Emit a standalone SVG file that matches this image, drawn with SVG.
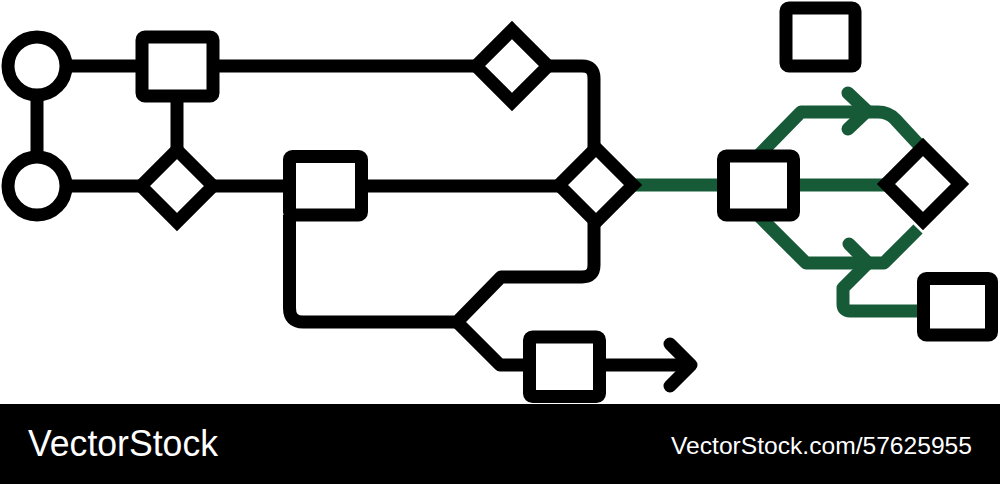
<svg xmlns="http://www.w3.org/2000/svg" width="1000" height="484" viewBox="0 0 1000 484">
<style>
.k{fill:none;stroke:#000;stroke-width:13;stroke-linejoin:round}
.g{fill:none;stroke:#175a38;stroke-width:13;stroke-linejoin:round}
.cap{stroke-linecap:round}
.n{fill:#fff;stroke:#000;stroke-width:13;stroke-linejoin:miter}
.r{fill:#fff;stroke:#000;stroke-width:13;stroke-linejoin:round}
.t{fill:#fff;font-family:"Liberation Sans",Arial,sans-serif}
</style>
<rect width="1000" height="484" fill="#fff"/>
<g id="connectors">
<path class="k" d="M37,66 V186"/>
<path class="k" d="M37,66 H142"/>
<path class="k" d="M213,66 H476"/>
<path class="k" d="M548,66 H582 Q594,66 594,78 V150"/>
<path class="k" d="M177,96 V152"/>
<path class="k" d="M37,186 H560"/>
<path class="k" d="M289.5,215 V308 Q289.5,322 303,322 H457 L501,277 H582 Q594,277 594,265 V220"/>
<path class="k" d="M457,322 L500,365 H529.5"/>
<path class="k" d="M599,365 H688"/>
<path class="k cap" d="M670,344 L691,365 L670,386"/>
<path class="g" d="M632,185 H723"/>
<path class="g" d="M793,185 H888"/>
<path class="g" d="M758,156 L801,112 H878 Q888,112 895,119 L920,146"/>
<path class="g cap" d="M848,93 L867,111 L848,129"/>
<path class="g" d="M758,215 L806,263 H884 L918,229"/>
<path class="g cap" d="M849,244 L868,263 L843,288 V304 Q843,311 850,311 H923"/>
</g>
<g id="start1"><circle class="r" cx="37" cy="66" r="29"/></g>
<g id="start2"><circle class="r" cx="37" cy="186" r="29"/></g>
<g id="box1"><rect class="r" x="142" y="37" width="71" height="59" rx="3"/></g>
<g id="dec1"><polygon class="n" points="177,150 213,186 177,222 141,186"/></g>
<g id="box2"><rect class="r" x="289.5" y="156.5" width="72" height="58.5" rx="3"/></g>
<g id="dec2"><polygon class="n" points="512,30 548,66 512,102 476,66"/></g>
<g id="dec3"><polygon class="n" points="596,148 633,185 596,222 559,185"/></g>
<g id="box4"><rect class="r" x="529.5" y="337" width="70" height="59.5" rx="3"/></g>
<g id="boxTop"><rect class="r" x="786" y="8" width="69" height="58" rx="3"/></g>
<g id="boxGreen"><rect class="r" x="723.5" y="156" width="70" height="59" rx="3"/></g>
<g id="dec4"><polygon class="n" points="923,147 960,184 923,221 886,184"/></g>
<g id="box5"><rect class="r" x="923.5" y="278.5" width="68" height="56.5" rx="3"/></g>
<g id="banner">
<rect x="0" y="404" width="1000" height="80" fill="#000"/>
<text class="t" x="28" y="456" font-size="37" textLength="190" lengthAdjust="spacingAndGlyphs">VectorStock</text>
<text class="t" x="671" y="454" font-size="24.5" textLength="301" lengthAdjust="spacingAndGlyphs">VectorStock.com/57625955</text>
</g>
</svg>
